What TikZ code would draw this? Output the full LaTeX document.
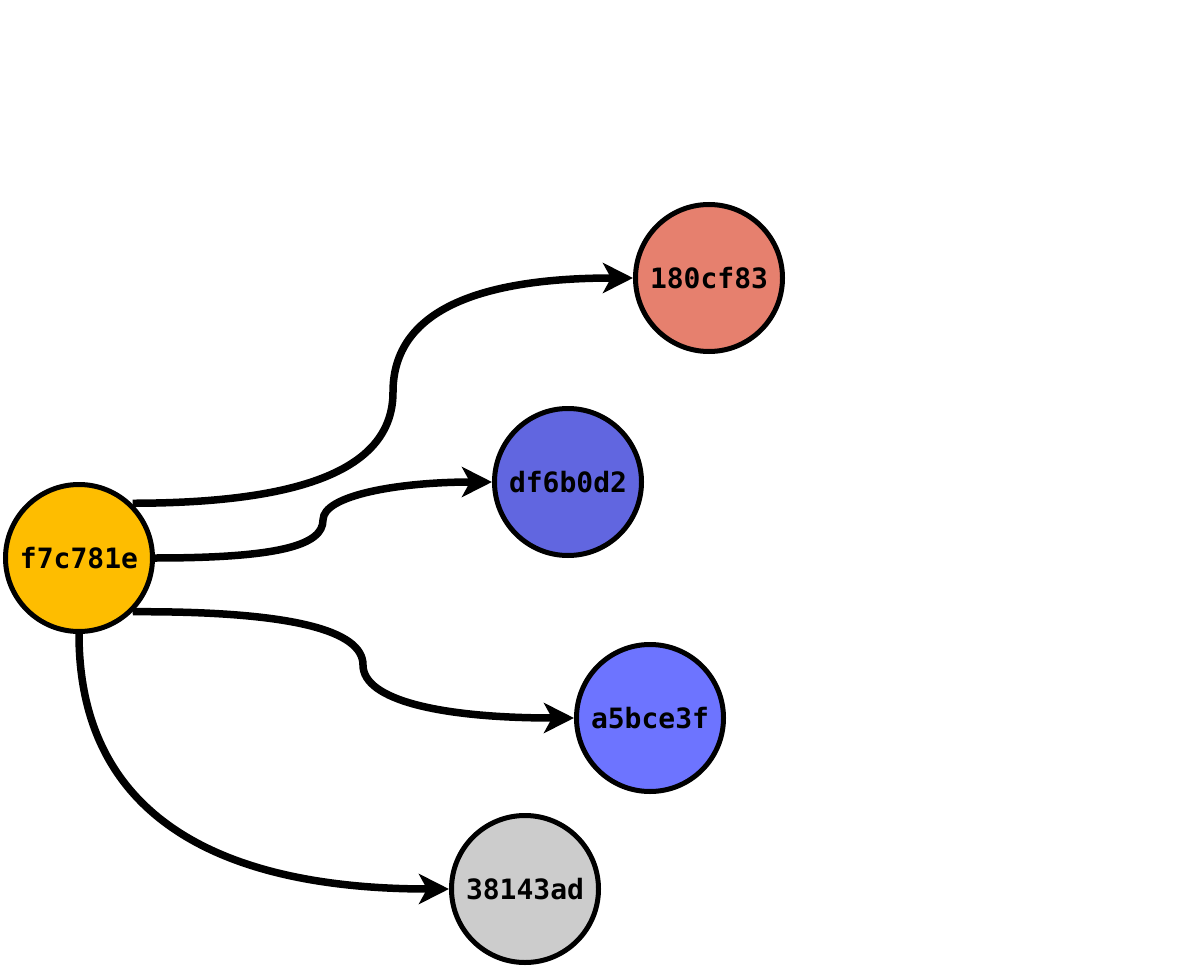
\documentclass[tikz,border=0pt]{standalone}
\usepackage{fontspec}
\newfontfamily\hashfont{DejaVu Sans Mono}
\usetikzlibrary{arrows.meta}
\definecolor{cyellow}{HTML}{FEBD00}
\definecolor{csalmon}{HTML}{E6806E}
\definecolor{cblue}{HTML}{6166E0}
\definecolor{clblue}{HTML}{6D74FF}
\definecolor{cgray}{HTML}{CCCCCC}
\tikzset{
  commit/.style={circle, draw=black, line width=5pt, minimum size=147pt, inner sep=0pt,
    font=\hashfont\bfseries\fontsize{28}{32}\selectfont},
  edge/.style={line width=7.5pt, -{Stealth[length=30pt,width=30pt,inset=8pt]}},
}
\begin{document}
\begin{tikzpicture}[x=1pt,y=-1pt]
\useasboundingbox (0,0) rectangle (1183,968);
\node[commit, fill=cyellow] (a) at (79,558) {f7c781e};
\node[commit, fill=csalmon] (b) at (709,278) {180cf83};
\node[commit, fill=cblue] (c) at (568,482) {df6b0d2};
\node[commit, fill=clblue] (d) at (650,718) {a5bce3f};
\node[commit, fill=cgray] (e) at (525,889) {38143ad};
\coordinate (m1) at (393,392);
\coordinate (m2) at (323,520);
\coordinate (m3) at (363,665);
\draw[edge] (a.north east) ++(0,-1) .. controls (300,503) and (393,470) .. (m1)
  .. controls (393,310) and (480,278) .. (b.west);
\draw[edge] (a.east) .. controls (280,558) and (323,545) .. (m2)
  .. controls (323,495) and (400,482) .. (c.west);
\draw[edge] (a.south east) .. controls (290,611) and (363,630) .. (m3)
  .. controls (363,700) and (440,718) .. (d.west);
\draw[edge] (a.south) .. controls (79,810) and (210,889) .. (e.west);
\end{tikzpicture}
\end{document}
